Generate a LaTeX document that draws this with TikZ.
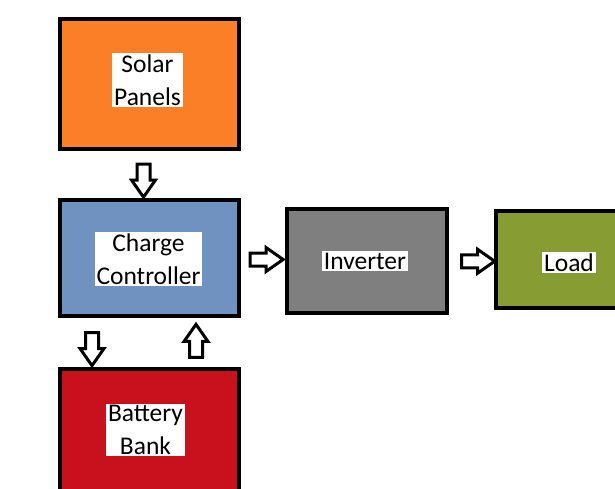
\documentclass[tikz,border=0pt]{standalone}
\usepackage{fontspec}
\setmainfont{Carlito}
\usetikzlibrary{shapes.arrows,calc}
\definecolor{solarc}{HTML}{FA7F27}
\definecolor{chargec}{HTML}{6F92C1}
\definecolor{invc}{HTML}{7F7F7F}
\definecolor{loadc}{HTML}{879C33}
\definecolor{battc}{HTML}{C8111D}
\begin{document}
\begin{tikzpicture}[x=1pt,y=-1pt,
  box/.style={draw=black,line width=4pt,inner sep=0pt,outer sep=0pt},
  lbl/.style={fill=white,align=center,font=\fontsize{25.5}{33}\selectfont,inner xsep=2pt,inner ysep=1.5pt,text=black},
  barrow/.style={single arrow,draw=black,fill=white,line width=3pt,inner xsep=0pt,inner ysep=5pt,
    minimum width=21pt,single arrow head extend=5.5pt,single arrow tip angle=70,
    minimum height=33pt}]
\useasboundingbox (0,0) rectangle (615,489);
\clip (0,0) rectangle (615,489);
\fill[white] (0,0) rectangle (615,489);
% boxes
\node[box,fill=solarc,minimum width=179pt,minimum height=130pt] (solar) at (149.5,84) {};
\node[box,fill=chargec,minimum width=179pt,minimum height=116pt] (charge) at (149.5,258) {};
\node[box,fill=invc,minimum width=160pt,minimum height=104pt] (inv) at (367,261) {};
\node[box,fill=loadc,minimum width=146pt,minimum height=97pt] (load) at (569,259.5) {};
\node[box,fill=battc,minimum width=179pt,minimum height=122pt] (batt) at (149.5,430) {};
% labels
\node[lbl] (solarlbl) at ($(solar.center)+(-2,-4)$) {Solar\\Panels};
\node[lbl] (chargelbl) at ($(charge.center)+(-1,1)$) {Charge\\Controller};
\node[lbl] (invlbl) at ($(inv.center)+(-2,0)$) {Inverter};
\node[lbl] (loadlbl) at ($(load.center)+(0,3)$) {Load};
\node[lbl] (battlbl) at ($(batt.center)+(-4,0)$) {Battery\\Bank};
% block arrows
\node[barrow,rotate=-90] (a1) at ($($(solar.south)!0.5!(charge.north)$)+(-6,1.5)$) {};
\node[barrow,rotate=-90] (a2) at ($($(charge.south)!0.5!(batt.north)$)+(-57.5,2)$) {};
\node[barrow,rotate=90] (a3) at ($($(charge.south)!0.5!(batt.north)$)+(46.5,3)$) {};
\node[barrow] (a4) at ($($(charge.east)!0.5!(inv.west)$)+(-1,0)$) {};
\node[barrow] (a5) at ($($(inv.east)!0.5!(load.west)$)+(2,1)$) {};
\end{tikzpicture}
\end{document}
